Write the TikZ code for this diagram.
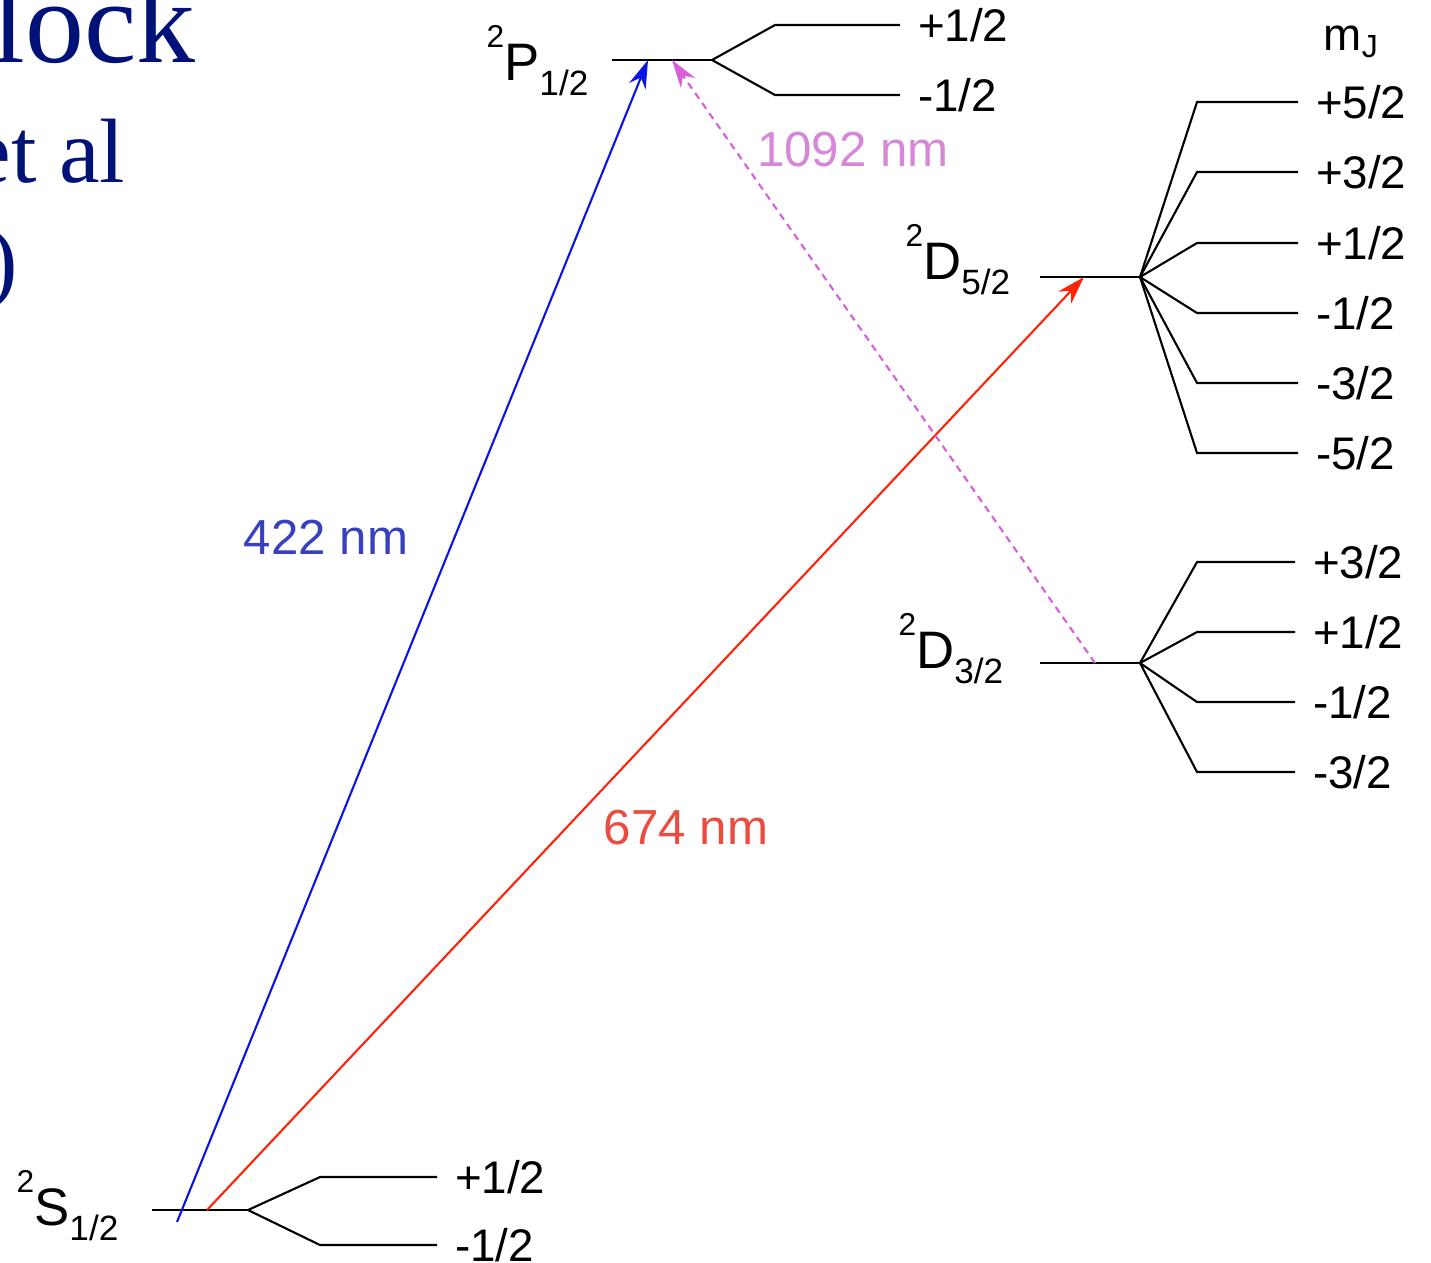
\documentclass[tikz,border=0pt]{standalone}
\usepackage{fontspec}
\setmainfont{Liberation Serif}
\setsansfont{Liberation Sans}
\usepackage{tikz}
\usetikzlibrary{arrows.meta, positioning}
\definecolor{titleblue}{RGB}{0,18,120}
\definecolor{beamblue}{RGB}{10,20,230}
\definecolor{txtblue}{RGB}{55,65,190}
\definecolor{beamred}{RGB}{255,35,10}
\definecolor{txtred}{RGB}{235,75,65}
\definecolor{beampink}{RGB}{215,95,215}
\definecolor{txtpink}{RGB}{215,135,215}
\newcommand{\termsym}[3]{\raisebox{0.62em}{\fontsize{9}{9}\selectfont #1}#2\raisebox{-0.3em}{\fontsize{10}{10}\selectfont #3}}
\tikzset{
  level/.style={line width=0.8pt, color=black},
  branch/.style={line width=0.6pt, color=black},
  mjlab/.style={anchor=west, inner sep=0pt, xshift=0.17cm,
    font=\sffamily\fontsize{13}{13}\selectfont},
  term/.style={anchor=base west, inner sep=0pt,
    font=\sffamily\fontsize{15}{15}\selectfont},
  nmlab/.style={inner sep=0pt, font=\sffamily\fontsize{14}{14}\selectfont},
  titletxt/.style={anchor=base east, inner sep=0pt, text=titleblue},
  bluearrow/.style={-{Stealth[length=8pt,width=5pt]}, line width=0.6pt, color=beamblue},
  redarrow/.style={-{Stealth[length=8pt,width=5pt]}, line width=0.6pt, color=beamred},
  pinkarrow/.style={-{Stealth[length=8pt,width=5pt]}, line width=0.6pt, color=beampink,
    dash pattern=on 2pt off 1.5pt}
}

\begin{document}
\begin{tikzpicture}[x=0.01cm, y=-0.01cm]
  \useasboundingbox (0,0) rectangle (1431,1262);
  \clip (0,0) rectangle (1431,1262);

  % slide title, cut off at the left
  \node[titletxt, font=\fontsize{33.5}{33.5}\selectfont] (tline1) at (196,62) {lock};
  \node[titletxt, font=\fontsize{26}{26}\selectfont] (tline2) at (126,182) {et al};
  \node[titletxt, font=\fontsize{26}{26}\selectfont] (tline3) at (19,291) {)};

  % S1/2
  \coordinate (S-l) at (152,1210);
  \coordinate (S-r) at (248,1210);
  \draw[level] (S-l) -- (S-r);
  \foreach \y/\lab in {1177/{+1/2},1245/{-1/2}}
    \draw[branch] (S-r) -- (320,\y) -- (437,\y) node[mjlab] {\lab};
  \node[term] (S-lab) at (16,1225) {\termsym{2}{S}{1/2}};

  % P1/2
  \coordinate (P-l) at (612,60);
  \coordinate (P-r) at (712,60);
  \draw[level] (P-l) -- (P-r);
  \foreach \y/\lab in {25/{+1/2},95/{-1/2}}
    \draw[branch] (P-r) -- (775,\y) -- (900,\y) node[mjlab] {\lab};
  \node[term] (P-lab) at (486,80) {\termsym{2}{P}{1/2}};

  % D5/2
  \coordinate (D5-l) at (1040,277);
  \coordinate (D5-r) at (1140,277);
  \draw[level] (D5-l) -- (D5-r);
  \foreach \y/\lab in {102/{+5/2},172/{+3/2},243/{+1/2},313/{-1/2},383/{-3/2},453/{-5/2}}
    \draw[branch] (D5-r) -- (1197,\y) -- (1298,\y) node[mjlab] {\lab};
  \node[term] (D5-lab) at (905,279) {\termsym{2}{D}{5/2}};

  % D3/2
  \coordinate (D3-l) at (1040,663);
  \coordinate (D3-r) at (1140,663);
  \draw[level] (D3-l) -- (D3-r);
  \foreach \y/\lab in {562/{+3/2},632/{+1/2},702/{-1/2},772/{-3/2}}
    \draw[branch] (D3-r) -- (1197,\y) -- (1295,\y) node[mjlab] {\lab};
  \node[term] (D3-lab) at (898,668) {\termsym{2}{D}{3/2}};

  \node[anchor=base west, inner sep=0pt, font=\sffamily\fontsize{13}{13}\selectfont]
    (mj) at (1323,50) {m\textsubscript{J}};

  % transitions
  \coordinate (S-blue) at (177,1222);
  \coordinate (S-red) at (207,1210);
  \coordinate (P-in) at (648,60);
  \coordinate (P-back) at (672,60);
  \coordinate (D5-in) at (1084,277);
  \coordinate (D3-out) at (1095,663);
  \draw[bluearrow] (S-blue) -- (P-in);
  \draw[redarrow] (S-red) -- (D5-in);
  \draw[pinkarrow] (D3-out) -- (P-back);

  \node[nmlab, text=txtblue] (l422) at (326,537) {422 nm};
  \node[nmlab, text=txtred] (l674) at (686,828) {674 nm};
  \node[nmlab, text=txtpink] (l1092) at (853,150) {1092 nm};
\end{tikzpicture}
\end{document}
